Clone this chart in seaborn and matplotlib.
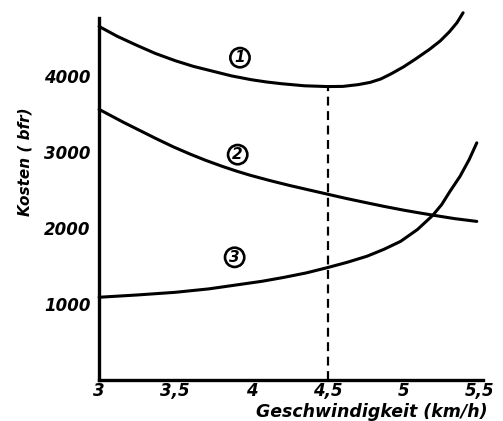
import matplotlib
matplotlib.use("Agg")
import matplotlib.pyplot as plt
import seaborn as sns
import pandas as pd

# ---- data ----
x1 = [3.0, 3.12, 3.25, 3.37, 3.5, 3.62, 3.75, 3.87, 4.0, 4.1, 4.2, 4.35, 4.5,
      4.6, 4.7, 4.78, 4.85, 4.92, 5.0, 5.08, 5.17, 5.24, 5.3, 5.35, 5.39]
y1 = [4650, 4520, 4400, 4295, 4200, 4125, 4060, 4000, 3950, 3920, 3897, 3870, 3860,
      3862, 3885, 3915, 3960, 4030, 4120, 4225, 4350, 4460, 4580, 4700, 4830]

x2 = [3.0, 3.08, 3.16, 3.27, 3.38, 3.49, 3.6, 3.7, 3.81, 3.9, 3.99, 4.12, 4.25,
      4.38, 4.5, 4.62, 4.75, 4.87, 5.0, 5.1, 5.19, 5.33, 5.48]
y2 = [3560, 3475, 3390, 3280, 3170, 3065, 2970, 2890, 2810, 2750, 2695, 2625, 2560,
      2500, 2445, 2390, 2335, 2285, 2235, 2200, 2170, 2125, 2087]

x3 = [3.0, 3.25, 3.5, 3.72, 3.93, 4.07, 4.21, 4.36, 4.5, 4.63, 4.76, 4.87, 4.98,
      5.09, 5.19, 5.25, 5.3, 5.37, 5.43, 5.48]
y3 = [1090, 1120, 1155, 1200, 1260, 1300, 1350, 1410, 1480, 1550, 1630, 1720, 1825,
      1980, 2165, 2310, 2470, 2680, 2900, 3120]

dash_x = [4.5, 4.5]
dash_y = [0, 3860]

curve_labels = ["1", "2", "3"]
label_x = [3.925, 3.91, 3.89]
label_y = [4240, 2965, 1615]

xticks = [3, 3.5, 4, 4.5, 5, 5.5]
xtick_labels = ["3", "3,5", "4", "4,5", "5", "5,5"]
yticks = [1000, 2000, 3000, 4000]
ytick_labels = ["1000", "2000", "3000", "4000"]

xlabel = "Geschwindigkeit (km/h)"
ylabel = "Kosten ( bfr)"

# ---- plotting ----
sns.set_style("white")
plt.rcParams["font.family"] = ["DejaVu Sans"]
plt.rcParams["text.color"] = "black"
plt.rcParams["axes.labelcolor"] = "black"
plt.rcParams["xtick.color"] = "black"
plt.rcParams["ytick.color"] = "black"

fig = plt.figure(figsize=(5.03, 4.21), dpi=100)
ax = fig.add_axes([0.197, 0.097, 0.763, 0.860])

df = pd.concat([
    pd.DataFrame({"x": x1, "y": y1, "c": "1"}),
    pd.DataFrame({"x": x2, "y": y2, "c": "2"}),
    pd.DataFrame({"x": x3, "y": y3, "c": "3"}),
])
for c in curve_labels:
    sub = df[df["c"] == c]
    sns.lineplot(data=sub, x="x", y="y", sort=False, estimator=None,
                 color="black", linewidth=2.2, ax=ax)
for ln in ax.lines:
    ln.set_clip_on(False)
    ln.set_solid_joinstyle("round")
    ln.set_solid_capstyle("round")

ax.plot(dash_x, dash_y, color="black", linewidth=1.6, linestyle=(0, (4, 2.5)))

for t, lx, ly in zip(curve_labels, label_x, label_y):
    ax.text(lx, ly, t, ha="center", va="center", fontsize=11,
            fontweight="bold", fontstyle="italic", color="black",
            bbox=dict(boxstyle="circle,pad=0.14", facecolor="white",
                      edgecolor="black", linewidth=1.9))

ax.set_xlim(3, 5.52)
ax.set_ylim(0, 4760)
ax.set_xticks(xticks)
ax.set_xticklabels(xtick_labels)
ax.set_yticks(yticks)
ax.set_yticklabels(ytick_labels)
ax.tick_params(direction="in", length=5, width=1.5, colors="black",
               labelsize=12)
ax.tick_params(axis="x", pad=1)
ax.tick_params(axis="y", pad=6)
for lab in ax.get_xticklabels() + ax.get_yticklabels():
    lab.set_fontweight("bold")
    lab.set_fontstyle("italic")

for s in ["top", "right"]:
    ax.spines[s].set_visible(False)
for s in ["left", "bottom"]:
    ax.spines[s].set_linewidth(2.4)
    ax.spines[s].set_color("black")

ax.set_xlabel("")
ax.set_ylabel("")
fig.text(372 / 503, 1 - 412 / 421, xlabel, ha="center", va="center",
         fontsize=12.5, fontweight="bold", fontstyle="italic")
fig.text(25 / 503, 1 - 162 / 421, ylabel, ha="center", va="center",
         rotation=90, fontsize=11, fontweight="bold", fontstyle="italic")

fig.savefig("out.png", dpi=100, facecolor="white")
